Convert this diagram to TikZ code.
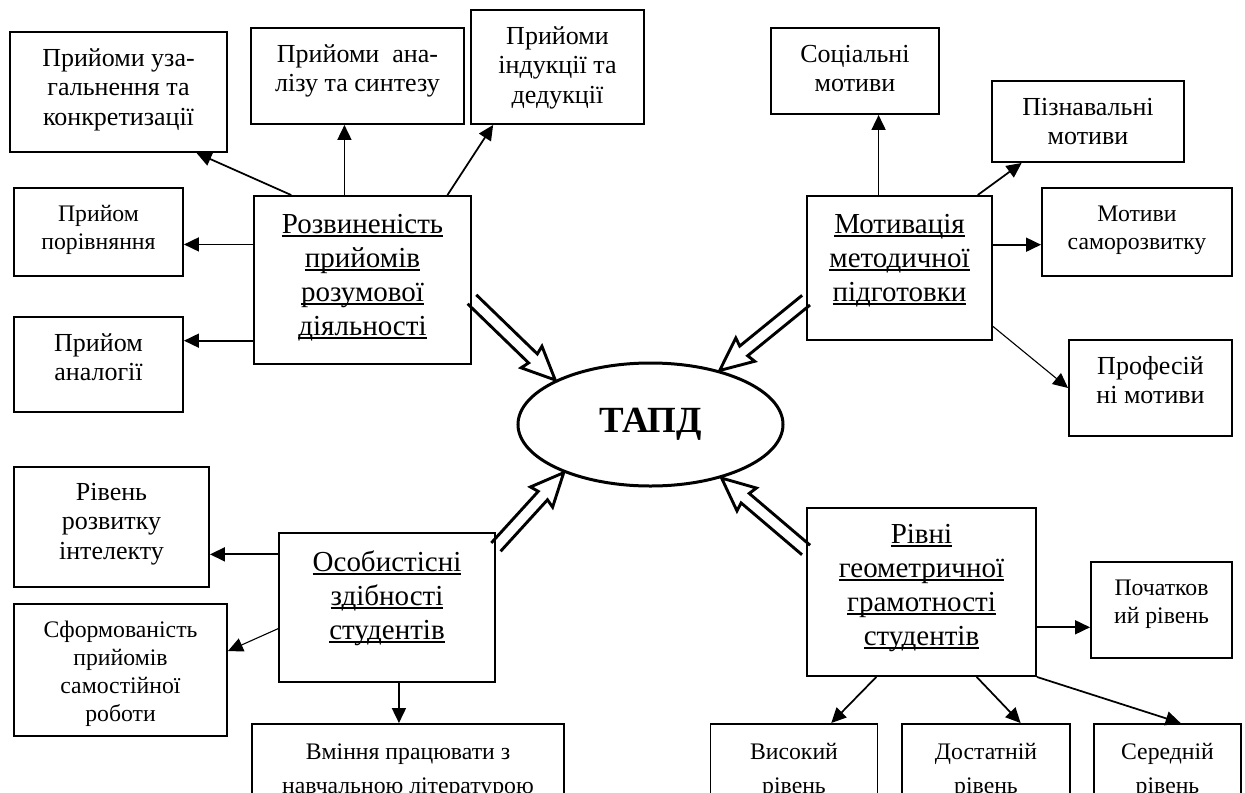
\documentclass[tikz,border=0pt]{standalone}
\usepackage{fontspec}
\setmainfont{Liberation Serif}
\usetikzlibrary{arrows.meta, shapes.geometric, calc}
\tikzstyle{box} = [draw, line width=0.38mm, inner sep=0pt, font=\fontsize{14.8}{17}\selectfont]
\tikzstyle{smallbox} = [box, font=\fontsize{13.5}{16}\selectfont]
\tikzstyle{lowbox} = [box, font=\fontsize{13.5}{19.4}\selectfont]
\tikzstyle{mainbox} = [box, font=\fontsize{16.5}{19.4}\selectfont]
\tikzstyle{goal} = [ellipse, draw, line width=0.6mm, inner sep=0pt, minimum width=53mm, minimum height=24.6mm, font=\fontsize{21}{25}\selectfont\bfseries]
\tikzstyle{arrow} = [line width=0.35mm, -{Triangle[length=3mm, width=2.8mm]}]
\tikzstyle{thinarrow} = [arrow, line width=0.22mm]
\tikzstyle{hollow} = [line width=0.58mm, line join=miter]
% text of a box, set from the top
\newcommand{\tbox}[4]{\parbox[c][#2][t]{#1}{\centering\rule{0pt}{#3}#4}}
% underlined word, rule at a fixed depth
\newcommand{\ulword}[1]{\leavevmode\setbox0\hbox{#1}\rlap{\rule[-0.14em]{\wd0}{0.065em}}\box0}
% open double arrow
\newcommand{\hollowarrow}[2]{%
    \draw[hollow] let \p1=(#1), \p2=(#2), \n1={atan2(\y2-\y1,\x2-\x1)}, \n2={veclen(\x2-\x1,\y2-\y1)} in
        [shift={(\p1)}, rotate=\n1] (0pt,1.25mm) -- (\n2*1pt-6.2mm,1.25mm) -- (\n2*1pt-6.6mm,3mm) -- (\n2*1pt,0pt)
        -- (\n2*1pt-6.6mm,-3mm) -- (\n2*1pt-6.2mm,-1.25mm) -- (0pt,-1.25mm);}

\begin{document}
\begin{tikzpicture}[x=0.2mm, y=-0.2mm]
    \useasboundingbox (0,0) rectangle (1245,793);
    \clip (0,0) rectangle (1245,793);

    % Centre
    \node[goal] (T) at (650.5,424.5) {ТАПД};

    % Mental operations
    \node[mainbox] (A) at (362.5,280) {\tbox{43.4mm}{33.6mm}{7.4mm}{\ulword{Розвиненість}\\\ulword{прийомів}\\\ulword{розумової}\\\ulword{діяльності}}};
    \node[box] (A1) at (118.5,92) {\tbox{43.4mm}{24mm}{6.8mm}{Прийоми уза-\\гальнення та\\конкретизації}};
    \node[box] (A2) at (357.5,76) {\tbox{42.6mm}{19.2mm}{6.8mm}{Прийоми\ \ ана-\\лізу та синтезу}};
    \node[box] (A3) at (557.5,67) {\tbox{34.6mm}{22.8mm}{6.8mm}{Прийоми\\індукції та\\дедукції}};
    \node[smallbox] (A4) at (98.5,232) {\tbox{33.8mm}{17.6mm}{6.6mm}{Прийом\\порівняння}};
    \node[box] (A5) at (98.5,364.5) {\tbox{33.8mm}{19mm}{6.8mm}{Прийом\\аналогії}};
    \draw[arrow] (A.130) -- (A1.-38);
    \draw[arrow] (A.102) -- (A.102 |- A2.south);
    \draw[arrow] (A.45) -- (A3.222);
    \draw[arrow] (A.162) -- (A.162 -| A4.east);
    \draw[arrow] (A.209) -- (A.209 -| A5.east);

    % Motivation
    \node[mainbox] (B) at (899.5,268) {\tbox{37mm}{28.8mm}{7.4mm}{\ulword{Мотивація}\\\ulword{методичної}\\\ulword{підготовки}}};
    \node[box] (B1) at (855,71) {\tbox{33.6mm}{17.2mm}{6.8mm}{Соціальні\\мотиви}};
    \node[box] (B2) at (1088,121.5) {\tbox{38.4mm}{16.2mm}{6.8mm}{Пізнавальні\\мотиви}};
    \node[smallbox] (B3) at (1137,232) {\tbox{38mm}{17.6mm}{6.6mm}{Мотиви\\саморозвитку}};
    \node[box] (B4) at (1150.5,388) {\tbox{32.6mm}{19.2mm}{6.8mm}{Професій\\ні мотиви}};
    \draw[arrow] (B.106) -- (B.106 |- B1.south);
    \draw[arrow] (B.43) -- (B2.212);
    \draw[arrow] (B.14) -- (B.14 -| B3.west);
    \draw[thinarrow] (B.-32) -- (B4.west);

    % Abilities
    \node[mainbox] (C) at (387,607.5) {\tbox{43.2mm}{29.8mm}{7.6mm}{\ulword{Особистісні}\\\ulword{здібності}\\\ulword{студентів}}};
    \node[box] (C1) at (111.5,527) {\tbox{39mm}{24mm}{6.6mm}{Рівень\\розвитку\\інтелекту}};
    \node[smallbox] (C2) at (120.5,670) {\tbox{42.6mm}{26.4mm}{6.6mm}{Сформованість\\прийомів\\самостійної\\роботи}};
    \node[lowbox] (C3) at (408,769) {\tbox{62.4mm}{18mm}{7mm}{Вміння працювати з\\навчальною літературою}};
    \draw[arrow] (C.154) -- (C.154 -| C1.east);
    \draw[thinarrow] (C.191) -- (C2.10);
    \draw[arrow] (C.-81) -- (C.-81 |- C3.north);

    % Levels
    \node[mainbox] (D) at (921.5,592) {\tbox{45.8mm}{33.6mm}{7mm}{\ulword{Рівні}\\\ulword{геометричної}\\\ulword{грамотності}\\\ulword{студентів}}};
    \node[smallbox] (D1) at (1161.5,610) {\tbox{28.2mm}{19.2mm}{6.6mm}{Початков\\ий рівень}};
    \foreach \name/\x/\w/\level in {D2/794/33.4mm/Високий, D3/986/33.6mm/Достатній, D4/1167.5/29.4mm/Середній} {
            \node[lowbox] (\name) at (\x,769) {\tbox{\w}{18mm}{7mm}{\level\\рівень}};
        }
    \draw[arrow] (D.-17) -- (D.-17 -| D1.west);
    \draw[arrow] (D.-118) -- (D2.51);
    \draw[arrow] (D.-57) -- (D3.53);
    \draw[arrow] (D.south east) -- (D4.74);

    % Into the centre
    \foreach \from/\to in {A.-10/T.155, B.199/T.38, C.29/T.209, D.160/T.-37} {
            \hollowarrow{\from}{\to}
        }
\end{tikzpicture}
\end{document}
